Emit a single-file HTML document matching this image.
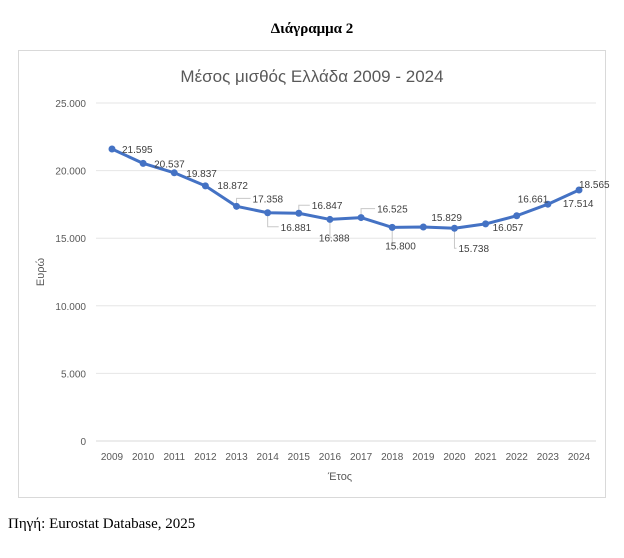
<!DOCTYPE html>
<html><head><meta charset="utf-8"><style>
body{margin:0;background:#fff;width:624px;height:553px;overflow:hidden;font-family:"Liberation Sans",sans-serif}
</style></head><body>
<svg width="624" height="553" xmlns="http://www.w3.org/2000/svg">
<text x="312" y="33" text-anchor="middle" font-family="Liberation Serif" font-weight="bold" font-size="15">Διάγραμμα 2</text>
<rect x="18.5" y="50.5" width="587" height="447" fill="#fff" stroke="#d9d9d9"/>
<text x="312" y="82" text-anchor="middle" font-size="17" fill="#595959">Μέσος μισθός Ελλάδα 2009 - 2024</text>
<g id="grid"></g><g id="xl"></g><g id="ll"></g><g id="series"></g><g id="labels"></g>
<text x="340" y="480" text-anchor="middle" font-size="11" fill="#595959">Έτος</text>
<text transform="translate(44,272) rotate(-90)" text-anchor="middle" font-size="11" fill="#595959">Ευρώ</text>
<text x="8" y="528" font-family="Liberation Serif" font-size="15">Πηγή: Eurostat Database, 2025</text>
</svg>
<script>
const years=["2009","2010","2011","2012","2013","2014","2015","2016","2017","2018","2019","2020","2021","2022","2023","2024"];
const values=[21595,20537,19837,18872,17358,16881,16847,16388,16525,15800,15829,15738,16057,16661,17514,18565];
const valueLabels=["21.595","20.537","19.837","18.872","17.358","16.881","16.847","16.388","16.525","15.800","15.829","15.738","16.057","16.661","17.514","18.565"];
const yTicks=[0,5000,10000,15000,20000,25000];
const yTickLabels=["0","5.000","10.000","15.000","20.000","25.000"];
const offs=[[10,4],[11,4],[12,4],[12,3],[16,-4],[13,18],[13,-4],[-11,22],[16,-5],[-7,22],[8,-6],[4,24],[7,7],[1,-13],[15,3],[0,-2]];
const leaders=[4,5,6,7,8,9,11];
const ns="http://www.w3.org/2000/svg";
const X=i=>112+i*(579-112)/(years.length-1);
const Y=v=>441-v/25000*338;
function mk(t,a,p){const e=document.createElementNS(ns,t);for(const k in a)e.setAttribute(k,a[k]);document.getElementById(p).appendChild(e);return e;}
yTicks.forEach((t,i)=>{
 const l=mk('line',{x1:96,x2:596,y1:Y(t),y2:Y(t),stroke:t===0?'#d9d9d9':'#e6e6e6'},'grid');
 
 
 const tx=mk('text',{x:86,y:Y(t)+4,'text-anchor':'end','font-size':10,fill:'#595959'},'grid');tx.textContent=yTickLabels[i];
 
 
});
years.forEach((y,i)=>{
 const tx=mk('text',{x:X(i),y:460,'text-anchor':'middle','font-size':10,fill:'#595959'},'xl');tx.textContent=y;
 
 
});
const pl=mk('polyline',{points:values.map((v,i)=>X(i)+','+Y(v)).join(' '),fill:'none',stroke:'#4472c4','stroke-width':3,'stroke-linejoin':'round'},'series');


values.forEach((v,i)=>{
 const c=mk('circle',{cx:X(i),cy:Y(v),r:3.5,fill:'#4472c4'},'series');
 
 
 const lx=X(i)+offs[i][0],ly=Y(v)+offs[i][1];
 if(leaders.includes(i)){
  const ex=offs[i][0]>0?lx-2:X(i)+2;
  const ln=mk('polyline',{points:`${X(i)},${Y(v)} ${X(i)},${ly-4} ${ex},${ly-4}`,fill:'none',stroke:'#c8c8c8','stroke-width':1},'ll');
  
  
 }
 const t=mk('text',{x:lx,y:ly,'font-size':10,fill:'#404040'},'labels');t.textContent=valueLabels[i];
 
 
});
</script>
</body></html>
